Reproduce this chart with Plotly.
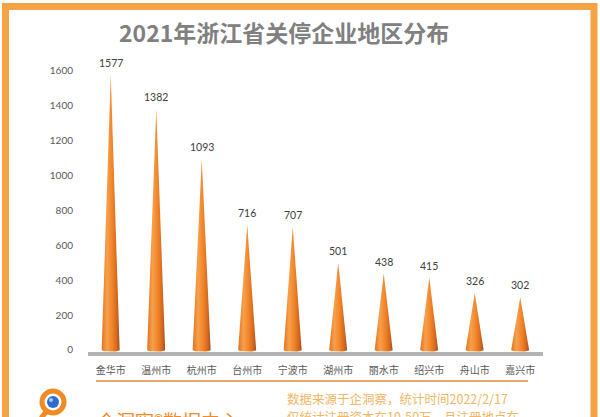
import numpy as np
import plotly.graph_objects as go

cities = ["金华市", "温州市", "杭州市", "台州市", "宁波市", "湖州市", "丽水市", "绍兴市", "舟山市", "嘉兴市"]
counts = [1577, 1382, 1093, 716, 707, 501, 438, 415, 326, 302]
y_ticks = [0, 200, 400, 600, 800, 1000, 1200, 1400, 1600]

title_text = "2021年浙江省关停企业地区分布"
brand_text = "企洞察®数据中心"
note_lines = ["数据来源于企洞察，统计时间2022/2/17", "仅统计注册资本在10-50万，且注册地点在"]

W, H = 600, 417
ML, MR, MT, MB = 88, 57, 60, 65
PW, PH = W - ML - MR, H - MT - MB


def px(x):
    return (x - ML) / PW


def py(y):
    return (H - MB - y) / PH


fig = go.Figure()

half_w = 0.2
bulge = 10
arc = np.linspace(0, np.pi, 16)
scale = [[0, "#E2721F"], [0.3, "#F7A04C"], [0.6, "#F08327"], [0.85, "#D2661E"], [1, "#A24E1C"]]
for i, v in enumerate(counts):
    xs = [i, i + half_w] + list(i + half_w * np.cos(arc)) + [i - half_w, i]
    ys = [v, 0] + list(-bulge * np.sin(arc)) + [0, v]
    fig.add_trace(go.Scatter(
        x=xs, y=ys, mode="lines", fill="toself",
        line=dict(width=0, color="#E07A25"),
        fillgradient=dict(type="horizontal", colorscale=scale),
        hoverinfo="skip", showlegend=False,
    ))

for i, v in enumerate(counts):
    fig.add_annotation(x=i, y=v, text=str(v), showarrow=False, yshift=12,
                       font=dict(size=10.5, color="#404040", family="Lato, Noto Sans CJK SC"))

# frame
fig.add_shape(type="rect", xref="paper", yref="paper",
              x0=px(5.5), x1=px(594), y0=py(440), y1=py(6.5),
              line=dict(color="#F4A445", width=7), fillcolor="rgba(0,0,0,0)", layer="below")

# title
fig.add_annotation(xref="paper", yref="paper", x=px(284), y=py(32), xanchor="center", yanchor="middle",
                   text=f"<b>{title_text}</b>", showarrow=False,
                   font=dict(size=23, color="#808080", family="Noto Sans CJK SC"))

# underline under categories
fig.add_shape(type="line", xref="paper", yref="paper", x0=px(96), x1=px(528), y0=py(381), y1=py(381),
              line=dict(color="#D98A3C", width=1.5))

# logo
cx, cy = 53, 402
fig.add_shape(type="line", xref="paper", yref="paper", x0=px(cx - 6), y0=py(cy + 9), x1=px(cx - 12), y1=py(cy + 16),
              line=dict(color="#F08A24", width=5))
fig.add_shape(type="circle", xref="paper", yref="paper", x0=px(cx - 11), x1=px(cx + 11), y0=py(cy + 11), y1=py(cy - 11),
              line=dict(color="#F08A24", width=5), fillcolor="white")
fig.add_shape(type="circle", xref="paper", yref="paper", x0=px(cx - 6), x1=px(cx + 6), y0=py(cy + 6), y1=py(cy - 6),
              line=dict(width=0), fillcolor="#2F6BD0")
fig.add_shape(type="circle", xref="paper", yref="paper", x0=px(cx - 4), x1=px(cx), y0=py(cy), y1=py(cy - 4),
              line=dict(width=0), fillcolor="#A9C8F2")

fig.add_annotation(xref="paper", yref="paper", x=px(95), y=py(405), xanchor="left", yanchor="top",
                   text=brand_text, showarrow=False,
                   font=dict(size=19, color="#F08A24", family="Noto Sans CJK SC"))
for k, line in enumerate(note_lines):
    fig.add_annotation(xref="paper", yref="paper", x=px(286), y=py(398 + 18 * k), xanchor="left", yanchor="middle",
                       text=line, showarrow=False, borderpad=0,
                       font=dict(size=12.5, color="#F2B664", family="Noto Sans CJK SC"))

fig.update_layout(
    width=W, height=H,
    margin=dict(l=ML, r=MR, t=MT, b=MB),
    paper_bgcolor="white", plot_bgcolor="white",
    showlegend=False,
    xaxis=dict(
        tickmode="array", tickvals=list(range(len(cities))), ticktext=cities,
        range=[-0.5, len(cities) - 0.5], showgrid=False, zeroline=False,
        showline=True, linecolor="#B3B3B3", linewidth=4,
        ticks="", ticklabelstandoff=6,
        tickfont=dict(size=10, color="#595959", family="Noto Sans CJK SC"),
    ),
    yaxis=dict(
        tickmode="array", tickvals=y_ticks, ticktext=[str(t) for t in y_ticks],
        range=[-12, 1663], showgrid=False, zeroline=False, showline=False,
        ticks="", ticklabelstandoff=14,
        tickfont=dict(size=10, color="#595959", family="Lato, Noto Sans CJK SC"),
    ),
)

fig.write_html("out.html", config={"displayModeBar": False},
               post_script="document.body.style.margin='0';document.body.style.overflow='hidden';")
